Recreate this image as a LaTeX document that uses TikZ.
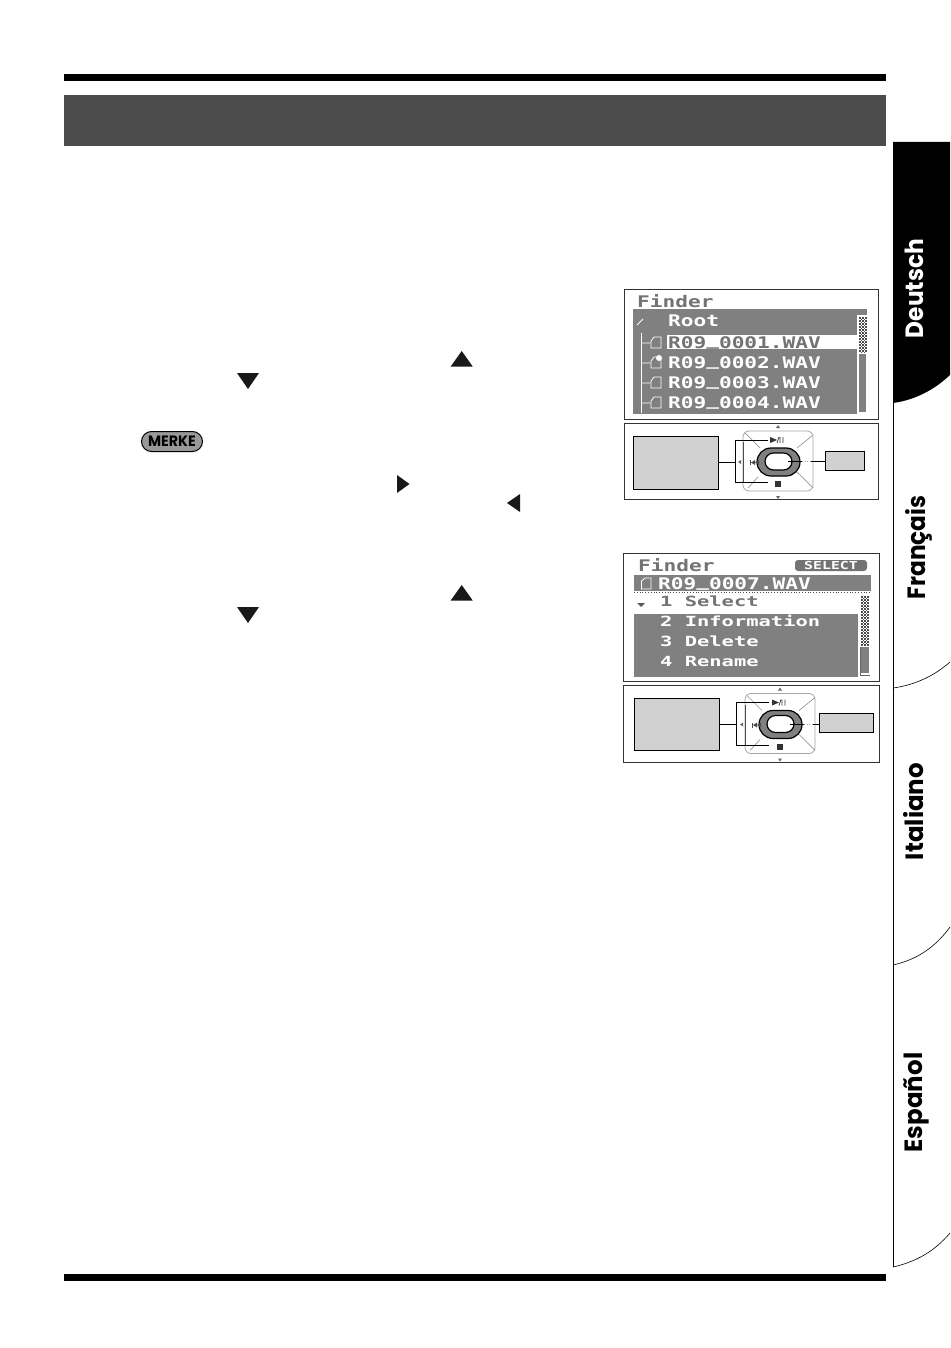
\documentclass[tikz,border=0pt]{standalone}
\usepackage{fontspec}
\setmainfont{Poppins}
\newfontfamily\lcdfont{DejaVu Sans Mono}
\usetikzlibrary{positioning,shapes.geometric}
\definecolor{lcdgray}{gray}{0.5}
\definecolor{boxgray}{gray}{0.82}
\tikzset{
   panel/.style={draw=black!80, line width=0.7pt, fill=white},
   lcdtext/.style={font=\lcdfont\bfseries\fontsize{16}{16}\selectfont, text=white, inner sep=0pt, anchor=base west},
   lcddark/.style={lcdtext, text=black!55},
   menutext/.style={lcdtext, font=\lcdfont\bfseries\fontsize{14}{14}\selectfont},
   calloutbox/.style={draw=black, line width=0.6pt, fill=boxgray},
   link/.style={line width=0.6pt},
   keyline/.style={line width=0.7pt, black!40},
   tablabel/.style={font=\bfseries\fontsize{25}{25}\selectfont, rotate=90, inner sep=0pt, anchor=base},
   marker/.style={fill=black!90, draw=none}
}
\newcommand{\lcdwide}[1]{\scalebox{1.32}[1]{#1}}
\newcommand{\menuwide}[1]{\scalebox{1.46}[1]{#1}}
\newcommand{\lcdbar}{\raisebox{2.5pt}{\_}}
\newcommand{\updown}[2]{%
   \fill[marker] (#1-11,#2+7.5) -- (#1+11,#2+7.5) -- (#1,#2-8) -- cycle;
}
\newcommand{\dnarrow}[2]{%
   \fill[marker] (#1-11,#2-8) -- (#1+11,#2-8) -- (#1,#2+8) -- cycle;
}
% dithered part of a scroll bar: x y columns rows
\newcommand{\checker}[4]{%
   \foreach \i in {1,...,#3}
      \foreach \j in {1,...,#4}{
         \pgfmathparse{int(mod(\i+\j,2))}
         \ifnum\pgfmathresult=0 \fill[black!70] (#1+\i*1.5-1.5,#2+\j*1.5-1.5) rectangle +(1.5,1.5); \fi
      }
}
% x y of the top left corner of the keypad
\newcommand{\keypad}[2]{%
   \begin{scope}[shift={(#1,#2)}]
   \draw[line width=0.8pt, black!35, rounded corners=6pt] (0,0) rectangle (70,60);
   \draw[line width=0.6pt, black!70] (0,11) -- (0,51);
   \foreach \xa/\ya/\xb/\yb in {2/2/17/17, 70/4/54/17, 70/57/54/41, 5/57/15/46}
      \draw[keyline] (\xa,\ya) -- (\xb,\yb);
   \draw[line width=1.2pt, black, fill=black!50, rounded corners=14pt] (14,17) rectangle (57,45);
   \draw[line width=1.2pt, black, fill=white, rounded corners=8.5pt] (22,22) rectangle (49,39);
   % play and pause
   \fill[black!80] (27,6) -- (27,12) -- (34,9) -- cycle;
   \draw[line width=0.7pt, black!80] (34,12) -- (36,6) (37,12) -- (37,6) (40,12) -- (40,6);
   % rewind
   \fill[black!70] (7,29) rectangle (8,34);
   \fill[black!70] (8,31.5) -- (12,29) -- (12,34) -- cycle;
   \fill[black!70] (12,31.5) -- (16,29) -- (16,34) -- cycle;
   % stop
   \fill[black!80] (32,50) rectangle (38,56);
   \fill[black!60] (-5,31) -- (-2,29) -- (-2,33) -- cycle;
   \fill[black!60] (35,-6) -- (33,-3) -- (37,-3) -- cycle;
   \fill[black!60] (35,68) -- (33,65) -- (37,65) -- cycle;
   \end{scope}
}
\begin{document}
\begin{tikzpicture}[x=1pt,y=-1pt]
\useasboundingbox (0,0) rectangle (950,1348);
% rules and header
\fill (64,74) rectangle (886,81);
\fill (64,1274) rectangle (886,1281);
\fill[black!70] (64,95) rectangle (886,146);

% arrows in the text
\updown{461.7}{359}
\dnarrow{248}{381}
\updown{461.7}{593}
\dnarrow{248}{615}
\fill[marker] (397,475) -- (397,493) -- (409.5,484) -- cycle;
\fill[marker] (520,494) -- (520,512) -- (507,503) -- cycle;
\node[draw=black, line width=1pt, fill=black!40, rounded corners=10pt, minimum width=61pt, minimum height=20pt, inner sep=0pt,
      font=\bfseries\fontsize{15}{15}\selectfont] (merke) at (172,441.5) {\scalebox{0.95}[1]{MERKE}};

% first screen
\node[panel, minimum width=254pt, minimum height=130pt, inner sep=0pt] (screenA) at (751,354.5) {};
\node[lcddark] (titleA) at (637,307) {\lcdwide{Finder}};
\fill[lcdgray] (633,309) rectangle (867,315);
\fill[lcdgray] (633,315) rectangle (857,414);
\fill[white] (667,335) rectangle (859,349);
\fill[lcdgray] (859,354) rectangle (866,412);
\checker{859}{317}{5}{24}
\node[lcdtext] (rootA) at (668,326) {\lcdwide{Root}};
\node[lcddark] (rowAa) at (668,348) {\lcdwide{R09\lcdbar0001.WAV}};
\node[lcdtext] (rowAb) at (668,368) {\lcdwide{R09\lcdbar0002.WAV}};
\node[lcdtext] (rowAc) at (668,388) {\lcdwide{R09\lcdbar0003.WAV}};
\node[lcdtext] (rowAd) at (668,408) {\lcdwide{R09\lcdbar0004.WAV}};
\draw[white, line width=0.8pt] (637,325) -- (643,319);
\draw[white, line width=0.8pt] (641,333) -- (641,413);
\foreach \y in {348,368,388,408}
   \draw[white, line width=0.8pt] (641,\y-5) -- (650,\y-5) (651,\y) -- (651,\y-7) -- (654,\y-11) -- (661,\y-11) -- (661,\y) -- cycle;
\fill[white] (659,358) circle (3pt);

% first keypad
\node[panel, minimum width=254pt, minimum height=76pt, inner sep=0pt] (padA) at (751,461.5) {};
\node[calloutbox, minimum width=85pt, minimum height=53pt, inner sep=0pt] (leftA) at (676,462.5) {};
\node[calloutbox, minimum width=39pt, minimum height=19pt, inner sep=0pt] (rightA) at (844.5,461) {};
\keypad{743}{431}
\coordinate (playA) at (768,440);
\coordinate (stopA) at (768,482);
\coordinate (joinA) at (735,462.5);
\coordinate (okA) at (788,461);
\draw[link] (leftA) -- (joinA);
\draw[link] (playA) -| (joinA) |- (stopA);
\draw[link] (rightA) -- (okA);
\draw[white, line width=1pt] (802,461) -- (811,461);
\draw[black!40, dotted, line width=0.6pt] (802,461) -- (811,461);

% second screen
\node[panel, minimum width=256pt, minimum height=128pt, inner sep=0pt] (screenB) at (751.5,617.5) {};
\node[lcddark] (titleB) at (638,571) {\lcdwide{Finder}};
\node[fill=black!55, text=white, rounded corners=3pt, inner sep=0pt, minimum height=11pt, font=\lcdfont\bfseries\fontsize{11}{11}\selectfont, minimum width=72pt] (selectB) at (831,565.5) {\scalebox{1.35}[1]{SELECT}};
\fill[lcdgray] (634,575) rectangle (871,591);
\fill[lcdgray] (634,614) rectangle (858,677);
\fill[lcdgray] (861,647) rectangle (869,673);
\checker{861}{596}{5}{33}
\draw[line width=0.8pt, dotted, black!70] (634,592) -- (871,592);
\draw[line width=0.8pt, black!60] (860,675) -- (870,675);
\draw[line width=0.6pt, black!60] (860,647) -- (860,675);
\node[lcdtext] (rowBz) at (658,589) {\lcdwide{R09\lcdbar0007.WAV}};
\node[menutext, text=black!55] (rowBa) at (660,606) {\menuwide{1 Select}};
\node[menutext] (rowBb) at (660,626.5) {\menuwide{2 Information}};
\node[menutext] (rowBc) at (660,646.5) {\menuwide{3 Delete}};
\node[menutext] (rowBd) at (660,666.5) {\menuwide{4 Rename}};
\fill[black!65] (637,603) -- (645,603) -- (641,607) -- cycle;
\draw[white, line width=0.8pt] (641.5,589) -- (641.5,581) -- (645,578) -- (651,578) -- (651,589) -- cycle;

% second keypad
\node[panel, minimum width=256pt, minimum height=77pt, inner sep=0pt] (padB) at (751.5,724) {};
\node[calloutbox, minimum width=85pt, minimum height=52pt, inner sep=0pt] (leftB) at (677,724) {};
\node[calloutbox, minimum width=54pt, minimum height=19pt, inner sep=0pt] (rightB) at (846.5,723) {};
\keypad{745}{693.5}
\coordinate (playB) at (769,702);
\coordinate (stopB) at (769,745);
\coordinate (joinB) at (736,724);
\coordinate (okB) at (790,724);
\draw[link] (leftB) -- (joinB);
\draw[link] (playB) -| (joinB) |- (stopB);
\draw[link] (rightB.west |- okB) -- (okB);
\draw[white, line width=1pt] (804,724) -- (813,724);
\draw[black!40, dotted, line width=0.6pt] (804,724) -- (813,724);

% tabs
\draw[line width=0.7pt] (893,142) -- (893,1267);
\fill (893,142) -- (950,142) -- (950,375) .. controls (934,390) and (915,400) .. (893,403) -- cycle;
\draw[line width=0.6pt] (893,688) .. controls (915,685) and (934,676) .. (950,662);
\draw[line width=0.6pt] (893,965) .. controls (915,960) and (934,949) .. (950,927);
\draw[line width=0.6pt] (893,1267) .. controls (915,1262) and (934,1252) .. (950,1233);
\node[tablabel, text=white] (deutsch) at (923.5,288.5) {\scalebox{0.93}[1]{Deutsch}};
\node[tablabel] (francais) at (925,547.5) {\scalebox{0.93}[1]{Français}};
\node[tablabel] (italiano) at (923,811.5) {\scalebox{0.98}[1]{Italiano}};
\node[tablabel] (espanol) at (922,1102.5) {\scalebox{0.98}[1]{Español}};
\end{tikzpicture}
\end{document}
